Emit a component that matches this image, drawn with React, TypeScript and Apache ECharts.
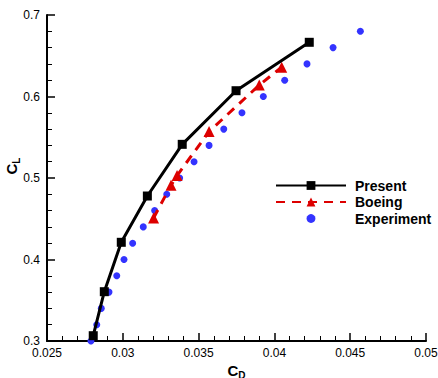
import React, { useEffect, useRef } from "react";
import * as echarts from "echarts";

const presentCD = [0.02805, 0.02878, 0.0299, 0.03162, 0.03392, 0.03747, 0.0423];
const presentCL = [0.3065, 0.3605, 0.4211, 0.4779, 0.5413, 0.6071, 0.6665];

const boeingCD = [0.03203, 0.03318, 0.03358, 0.03569, 0.039, 0.04048];
const boeingCL = [0.451, 0.491, 0.503, 0.557, 0.614, 0.636];

const expCD = [
  0.0279, 0.02828, 0.02858, 0.02909, 0.0296, 0.03008, 0.03065, 0.03135, 0.0321, 0.0329,
  0.03375, 0.0347, 0.03569, 0.03666, 0.03786, 0.03927, 0.04068, 0.04215, 0.04387, 0.04567,
];
const expCL = [
  0.3, 0.32, 0.34, 0.36, 0.38, 0.4, 0.42, 0.44, 0.46, 0.48,
  0.5, 0.52, 0.54, 0.56, 0.58, 0.6, 0.62, 0.64, 0.66, 0.68,
];

const seriesNames = ["Present", "Boeing", "Experiment"];

const zip = (a: number[], b: number[]) => a.map((v, i) => [v, b[i]]);

export default function App() {
  const ref = useRef<HTMLDivElement>(null);
  useEffect(() => {
    if (!ref.current) return;
    const chart = echarts.init(ref.current, null, { renderer: "svg" });
    const font = "'Liberation Sans', Arial, sans-serif";
    const axisCommon = {
      axisLine: { onZero: false, lineStyle: { color: "#000", width: 2 } },
      axisTick: { inside: true, length: 8, lineStyle: { color: "#000", width: 1.5 } },
      minorTick: { show: true, splitNumber: 5, length: 5, lineStyle: { color: "#000", width: 1 } },
      splitLine: { show: false },
      axisLabel: { color: "#000", fontSize: 12, fontFamily: font },
    };
    chart.setOption({
      animation: false,
      backgroundColor: "#fff",
      grid: { left: 47, right: 12, top: 15, bottom: 37, containLabel: false, outerBoundsMode: "none" },
      legend: {
        show: true,
        left: 275,
        top: 178.5,
        padding: 0,
        orient: "vertical",
        itemWidth: 70,
        itemHeight: 11,
        itemGap: 2.5,
        textStyle: { fontSize: 14, fontWeight: "bold", color: "#000", fontFamily: font, padding: [0, 0, 0, 4] },
        data: seriesNames,
      },
      xAxis: {
        type: "value",
        min: 0.025,
        max: 0.05,
        interval: 0.005,
        ...axisCommon,
        axisLabel: {
          ...axisCommon.axisLabel,
          margin: 6,
          formatter: (v: number) => String(+v.toFixed(3)),
        },
        name: "{c|C}{s|D}",
        nameLocation: "middle",
        nameGap: 19,
        nameMoveOverlap: false,
        nameTextStyle: {
          rich: {
            c: { fontSize: 15, fontWeight: "bold", fontFamily: font, color: "#000" },
            s: { fontSize: 10, fontWeight: "bold", fontFamily: font, color: "#000", padding: [10, 0, 0, 0] },
          },
        },
      },
      yAxis: {
        type: "value",
        min: 0.3,
        max: 0.7,
        interval: 0.1,
        ...axisCommon,
        axisLabel: {
          ...axisCommon.axisLabel,
          margin: 7,
          formatter: (v: number) => String(+v.toFixed(2)),
        },
        name: "{c|C}{s|L}",
        nameLocation: "middle",
        nameGap: 26,
        nameMoveOverlap: false,
        nameRotate: 90,
        nameTextStyle: {
          padding: [0, 0, 0, 24],
          rich: {
            c: { fontSize: 15, fontWeight: "bold", fontFamily: font, color: "#000" },
            s: { fontSize: 10, fontWeight: "bold", fontFamily: font, color: "#000", padding: [10, 0, 0, 0] },
          },
        },
      },
      series: [
        {
          name: seriesNames[0],
          type: "line",
          data: zip(presentCD, presentCL),
          symbol: "rect",
          symbolSize: 9,
          lineStyle: { color: "#000", width: 3 },
          itemStyle: { color: "#000" },
          z: 3,
        },
        {
          name: seriesNames[1],
          type: "line",
          data: zip(boeingCD, boeingCL),
          symbol: "triangle",
          symbolSize: 11,
          lineStyle: { color: "#dd0000", width: 3, type: [9, 7] },
          itemStyle: { color: "#dd0000" },
          z: 2,
        },
        {
          name: seriesNames[2],
          type: "line",
          data: zip(expCD, expCL),
          symbol: "circle",
          symbolSize: 7,
          showSymbol: true,
          lineStyle: { width: 0, opacity: 0 },
          itemStyle: { color: "#3333ff" },
          z: 1,
        },
      ],
    });
    return () => chart.dispose();
  }, []);
  return <div ref={ref} style={{ width: 438, height: 378, position: "absolute", left: 0, top: 0 }} />;
}
